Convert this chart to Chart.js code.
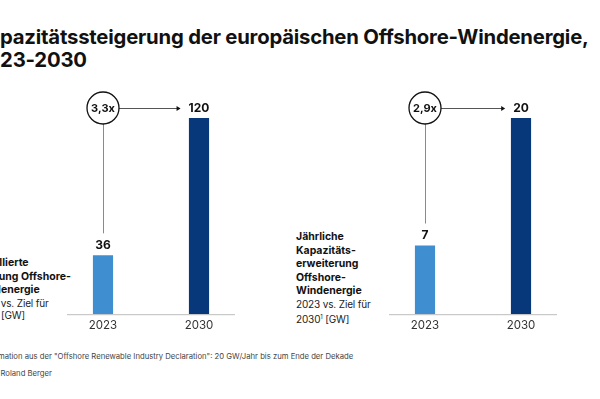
<!DOCTYPE html>
<html><head><meta charset="utf-8">
<script src="https://cdn.jsdelivr.net/npm/chart.js@4/dist/chart.umd.min.js"></script>
<style>
html,body{margin:0;padding:0}
body{width:600px;height:399px;overflow:hidden;background:#fff;position:relative;font-family:Inter,"Noto Sans",sans-serif;color:#111}
.t{position:absolute;white-space:nowrap}
#title{left:-26px;top:25px;font-size:20.3px;font-weight:700;line-height:23px;letter-spacing:-0.2px}
.lab{font-size:10px;line-height:12.6px;color:#222;letter-spacing:-0.15px}
.lab b{font-weight:700;color:#111;font-size:10.5px;letter-spacing:0}
.foot{font-size:7.7px;color:#444}
canvas{position:absolute;top:0}
</style></head><body>
<div class="t" id="title">Kapazitätssteigerung der europäischen Offshore-Windenergie,<br>2023-2030</div>
<div class="t lab" style="left:-26px;top:256px"><b>Installierte</b><br><b>Leistung Offshore-</b><br><b>Windenergie</b><br>2023 vs. Ziel für<br>2030 [GW]</div>
<div class="t lab" style="left:296px;top:230px"><b>Jährliche</b><br><b>Kapazitäts-</b><br><b>erweiterung</b><br><b>Offshore-</b><br><b>Windenergie</b><br>2023 vs. Ziel für<br>2030<sup style="font-size:6px">1</sup> [GW]</div>
<div class="t foot" style="left:-27px;top:352px">1) Information aus der "Offshore Renewable Industry Declaration": 20 GW/Jahr bis zum Ende der Dekade</div>
<div class="t foot" style="left:-27px;top:369px">Quelle: Roland Berger</div>
<canvas id="c1" width="300" height="399" style="left:0"></canvas>
<canvas id="c2" width="300" height="399" style="left:300px"></canvas>
<script>
const categories = ['2023', '2030'];
const installedGW = [36, 120];
const annualGW = [7, 20];
const growthLabels = ['3,3x', '2,9x'];

const LIGHT = '#3f8ed0';
const DARK = '#06387a';
const FONT = 'Inter, "Noto Sans", sans-serif';

const annot = {
  id: 'annot',
  afterDatasetsDraw(chart, args, opts) {
    const {ctx, chartArea: a} = chart;
    const meta = chart.getDatasetMeta(0);
    const data = chart.data.datasets[0].data;
    ctx.save();
    // axis line
    ctx.strokeStyle = '#bdbdbd'; ctx.lineWidth = 1;
    ctx.beginPath(); ctx.moveTo(a.left + 12, a.bottom + 0.5); ctx.lineTo(a.right - 12, a.bottom + 0.5); ctx.stroke();
    // value labels
    ctx.font = '700 12px ' + FONT; ctx.fillStyle = '#111';
    ctx.textAlign = 'center'; ctx.textBaseline = 'middle';
    meta.data.forEach((b, i) => ctx.fillText(String(data[i]), b.x, b.y - 10));
    const b0 = meta.data[0], b1 = meta.data[1];
    const cy = b1.y - 10, r = 16;
    // vertical connector
    ctx.strokeStyle = '#8a8a8a'; ctx.lineWidth = 1;
    ctx.beginPath(); ctx.moveTo(Math.round(b0.x) + 0.5, cy + r); ctx.lineTo(Math.round(b0.x) + 0.5, b0.y - 22); ctx.stroke();
    // arrow
    const tw = ctx.measureText(String(data[1])).width;
    const tip = b1.x - tw / 2 - 8;
    ctx.strokeStyle = '#555';
    ctx.beginPath(); ctx.moveTo(b0.x + r, Math.round(cy) + 0.5); ctx.lineTo(tip - 3, Math.round(cy) + 0.5); ctx.stroke();
    ctx.fillStyle = '#111';
    ctx.beginPath(); ctx.moveTo(tip, cy + 0.5); ctx.lineTo(tip - 4, cy - 2); ctx.lineTo(tip - 4, cy + 3); ctx.closePath(); ctx.fill();
    // circle
    ctx.fillStyle = '#fff';
    ctx.beginPath(); ctx.arc(b0.x, cy, r, 0, Math.PI * 2); ctx.fill();
    ctx.strokeStyle = '#111'; ctx.lineWidth = 1.3; ctx.stroke();
    ctx.fillStyle = '#111'; ctx.font = '700 11px ' + FONT;
    ctx.fillText(opts.growth, b0.x, cy + 0.5);
    ctx.restore();
  }
};

function make(id, values, growth, padLeft, padRight) {
  return new Chart(document.getElementById(id), {
    type: 'bar',
    data: {
      labels: categories,
      datasets: [{data: values, backgroundColor: [LIGHT, DARK], barPercentage: 0.21, categoryPercentage: 1}]
    },
    options: {
      responsive: false, animation: false, events: [],
      layout: {padding: {left: padLeft, right: padRight, top: 118, bottom: 63}},
      plugins: {legend: {display: false}, tooltip: {enabled: false}, annot: {growth}},
      scales: {
        x: {grid: {display: false, drawTicks: false}, border: {display: false},
            ticks: {font: {family: FONT, size: 11.5}, color: '#333', padding: 4}},
        y: {display: false, min: 0, max: values[1]}
      }
    },
    plugins: [annot]
  });
}
make('c1', installedGW, growthLabels[0], 55, 53);
make('c2', annualGW, growthLabels[1], 77, 31);
</script>
</body></html>
